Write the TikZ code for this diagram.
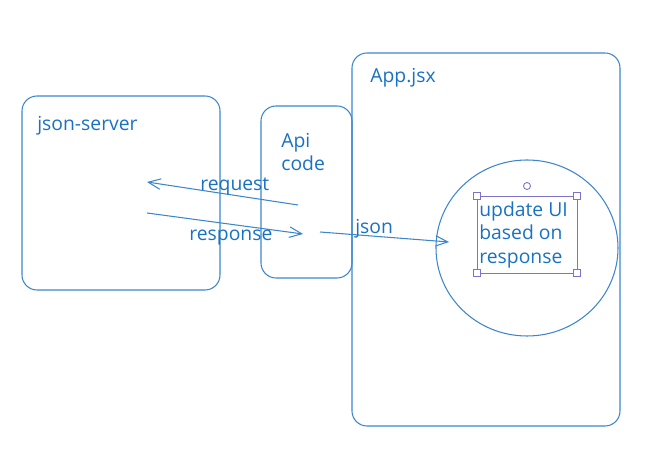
\documentclass[tikz,border=0pt]{standalone}
\usepackage{fontspec}
\setmainfont{Open Sans}
\usetikzlibrary{arrows.meta}
\definecolor{sketch}{RGB}{25,113,194}
\definecolor{selbox}{RGB}{125,115,205}

\begin{document}
\begin{tikzpicture}[x=0.02cm, y=-0.02cm,
  box/.style={draw=sketch!85, line width=0.6pt, rounded corners=0.3cm},
  lbl/.style={text=sketch, font=\fontsize{11}{13.5}\selectfont, anchor=west, inner sep=0pt, align=left},
  arr/.style={draw=sketch!85, line width=0.6pt, -{Straight Barb[length=7pt, width=6pt]}},
  handle/.style={draw=selbox, fill=white, line width=0.5pt, minimum size=4pt, inner sep=0pt}]

\useasboundingbox (0,0) rectangle (653,472);

% boxes
\draw[box] (22,96) rectangle (220,290);
\draw[box] (261,106) rectangle (352,278);
\draw[box] (352,53) rectangle (620,426);
\draw[draw=sketch!85, line width=0.6pt] (527,248) ellipse (91 and 88);

\node[lbl] (server) at (37,126) {json-server};
\node[lbl] (api) at (281,152) {Api\\code};
\node[lbl] (app) at (370,78) {App.jsx};

% selected text
\draw[selbox, line width=0.5pt] (477,196) rectangle (577,273);
\node[handle] (h1) at (477,196) {};
\node[handle] (h2) at (577,196) {};
\node[handle] (h3) at (477,273) {};
\node[handle] (h4) at (577,273) {};
\node[handle, circle] (rot) at (527,186) {};
\node[lbl, anchor=north west] (ui) at (479,201) {update UI\\based on\\response};

% arrows
\coordinate (reqA) at (298,205);
\coordinate (reqB) at (147,182);
\coordinate (resA) at (147,213);
\coordinate (resB) at (303,234);
\coordinate (jsA) at (320,232);
\coordinate (jsB) at (449,242);
\draw[arr] (reqA) -- (reqB);
\draw[arr] (resA) -- (resB);
\draw[arr] (jsA) -- (jsB);

\node[lbl] (req) at (200,186) {request};
\node[lbl] (res) at (189,238) {response};
\node[lbl] (js) at (355,229) {json};
\end{tikzpicture}
\end{document}
